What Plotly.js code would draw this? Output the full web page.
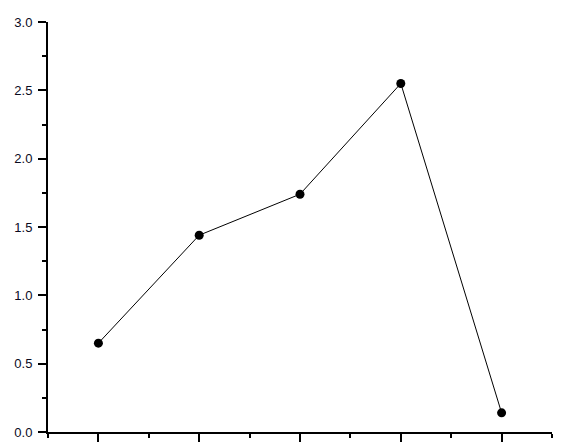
<!DOCTYPE html>
<html>
<head>
<meta charset="utf-8">
<script src="https://cdn.plot.ly/plotly-3.0.1.min.js"></script>
<style>
  html, body { margin: 0; padding: 0; background: #fff; }
  #chart { width: 585px; height: 446px; }
</style>
</head>
<body>
<div id="chart"></div>
<script>
const xValues = [1, 2, 3, 4, 5];
const yValues = [0.65, 1.44, 1.74, 2.55, 0.14];

const trace = {
  x: xValues,
  y: yValues,
  mode: 'lines+markers',
  type: 'scatter',
  line: { color: '#000', width: 1 },
  marker: { color: '#000', size: 9 },
  cliponaxis: false,
  hoverinfo: 'skip',
};

const layout = {
  width: 585,
  height: 446,
  margin: { l: 48, r: 33, t: 22, b: 14 },
  paper_bgcolor: '#fff',
  plot_bgcolor: '#fff',
  showlegend: false,
  font: { family: 'Arial, "Liberation Sans", sans-serif', size: 13, color: '#0a0a1e' },
  xaxis: {
    range: [0.5, 5.5],
    tickmode: 'linear',
    tick0: 1,
    dtick: 1,
    ticks: 'outside',
    ticklen: 8,
    tickwidth: 2,
    tickcolor: '#000',
    showticklabels: false,
    showline: true,
    linecolor: '#000',
    linewidth: 2,
    showgrid: false,
    zeroline: false,
    minor: { tick0: 0.5, dtick: 0.5, ticks: 'outside', ticklen: 4, tickwidth: 2, tickcolor: '#000', showgrid: false },
  },
  yaxis: {
    range: [0, 3],
    tickmode: 'linear',
    tick0: 0,
    dtick: 0.5,
    tickformat: '.1f',
    ticks: 'outside',
    ticklen: 8,
    tickwidth: 2,
    tickcolor: '#000',
    ticklabelstandoff: 3,
    showline: true,
    linecolor: '#000',
    linewidth: 2,
    showgrid: false,
    zeroline: false,
    minor: { tick0: 0, dtick: 0.25, ticks: 'outside', ticklen: 4, tickwidth: 2, tickcolor: '#000', showgrid: false },
  },
};

Plotly.newPlot('chart', [trace], layout, { displayModeBar: false, staticPlot: true });
</script>
</body>
</html>
